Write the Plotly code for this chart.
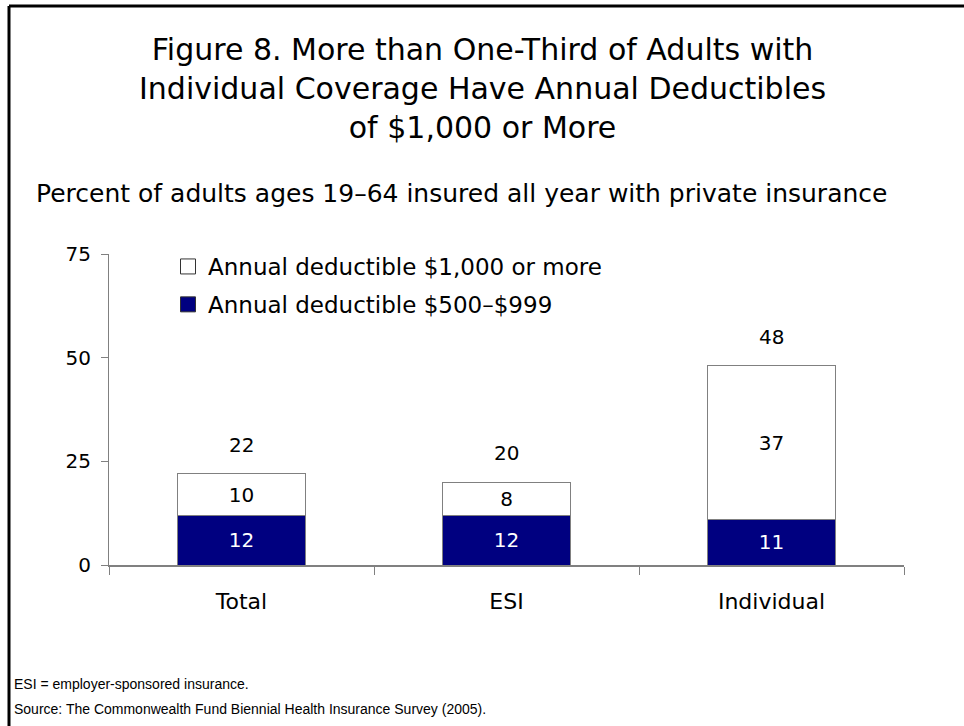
import plotly.graph_objects as go

categories = ["Total", "ESI", "Individual"]
deductible_500_999 = [12, 12, 11]
deductible_1000_plus = [10, 8, 37]
totals = [22, 20, 48]
y_ticks = [0, 25, 50, 75]

NAVY = "#000080"
FONT = "DejaVu Sans"
NAME_LOW = "Annual deductible $500\u2013$999"
NAME_HIGH = "Annual deductible $1,000 or more"

fig = go.Figure()
fig.add_trace(go.Bar(
    x=categories, y=deductible_500_999, name=NAME_LOW, showlegend=False,
    marker=dict(color=NAVY, line=dict(color="#808080", width=1)),
    text=[str(v) for v in deductible_500_999], textposition="inside",
    insidetextanchor="middle", textfont=dict(color="white", size=20, family=FONT),
    width=0.48,
))
fig.add_trace(go.Bar(
    x=categories, y=deductible_1000_plus, name=NAME_HIGH, showlegend=False,
    marker=dict(color="white", line=dict(color="#808080", width=1)),
    text=[str(v) for v in deductible_1000_plus], textposition="inside",
    insidetextanchor="middle", textfont=dict(color="black", size=20, family=FONT),
    width=0.48,
))

# Legend entries with larger square swatches
fig.add_trace(go.Scatter(
    x=[None], y=[None], mode="markers", name=NAME_HIGH, legendgroup="high",
    legendrank=1,
    marker=dict(symbol="square", size=15, color="white", line=dict(color="#333333", width=1)),
))
fig.add_trace(go.Scatter(
    x=[None], y=[None], mode="markers", name=NAME_LOW, legendgroup="low",
    legendrank=2,
    marker=dict(symbol="square", size=15, color=NAVY, line=dict(color="#333333", width=1)),
))

# Stack totals above each bar
for c, t in zip(categories, totals):
    fig.add_annotation(x=c, y=t, text=str(t), showarrow=False, yanchor="bottom",
                       yshift=15, font=dict(size=20, family=FONT, color="black"))

L, R, T, B = 109, 904, 254, 565
W, H = 964, 726
pw, ph = R - L, B - T

def px(x):
    return (x - L) / pw

def py(y):
    return (B - y) / ph

# Frame around the figure
fig.add_shape(type="line", xref="paper", yref="paper", x0=px(9), x1=px(970),
              y0=py(6), y1=py(6), line=dict(color="black", width=3))
fig.add_shape(type="line", xref="paper", yref="paper", x0=px(9), x1=px(9),
              y0=py(6), y1=py(740), line=dict(color="black", width=3))

fig.add_annotation(xref="paper", yref="paper", x=px(482), y=py(88), text=
                   "Figure 8. More than One-Third of Adults with<br>"
                   "Individual Coverage Have Annual Deductibles<br>of $1,000 or More",
                   showarrow=False, xanchor="center", yanchor="middle", align="center",
                   font=dict(size=30, family=FONT, color="black"))
fig.add_annotation(xref="paper", yref="paper", x=px(34), y=py(194),
                   text="Percent of adults ages 19\u201364 insured all year with private insurance",
                   showarrow=False, xanchor="left", yanchor="middle",
                   font=dict(size=25, family=FONT, color="black"))
fig.add_annotation(xref="paper", yref="paper", x=px(12), y=py(684),
                   text="ESI = employer-sponsored insurance.",
                   showarrow=False, xanchor="left", yanchor="middle",
                   font=dict(size=14, family="Liberation Sans", color="black"))
fig.add_annotation(xref="paper", yref="paper", x=px(12), y=py(709),
                   text="Source: The Commonwealth Fund Biennial Health Insurance Survey (2005).",
                   showarrow=False, xanchor="left", yanchor="middle",
                   font=dict(size=14, family="Liberation Sans", color="black"))

fig.update_layout(
    width=W, height=H, barmode="stack",
    margin=dict(l=L, r=W - R, t=T, b=H - B),
    paper_bgcolor="white", plot_bgcolor="white",
    font=dict(family=FONT, size=20, color="black"),
    showlegend=True,
    legend=dict(x=px(168), y=py(245), xanchor="left", yanchor="top",
                traceorder="grouped", tracegroupgap=5, itemwidth=30,
                font=dict(size=23, family=FONT), bgcolor="rgba(0,0,0,0)"),
)
fig.update_xaxes(range=[-0.5, 2.5], showline=True, linecolor="#808080", linewidth=2,
                 ticks="outside", tickson="boundaries", ticklen=8, tickcolor="#808080",
                 tickwidth=1, showgrid=False, tickfont=dict(size=22), zeroline=False,
                 ticklabelstandoff=16)
fig.update_yaxes(range=[0, 75], tickvals=y_ticks, showline=True, linecolor="#808080",
                 linewidth=1, ticks="outside", ticklen=7, tickcolor="#808080",
                 showgrid=False, zeroline=False, tickfont=dict(size=20),
                 ticklabelstandoff=6)

fig.write_html("out.html")
